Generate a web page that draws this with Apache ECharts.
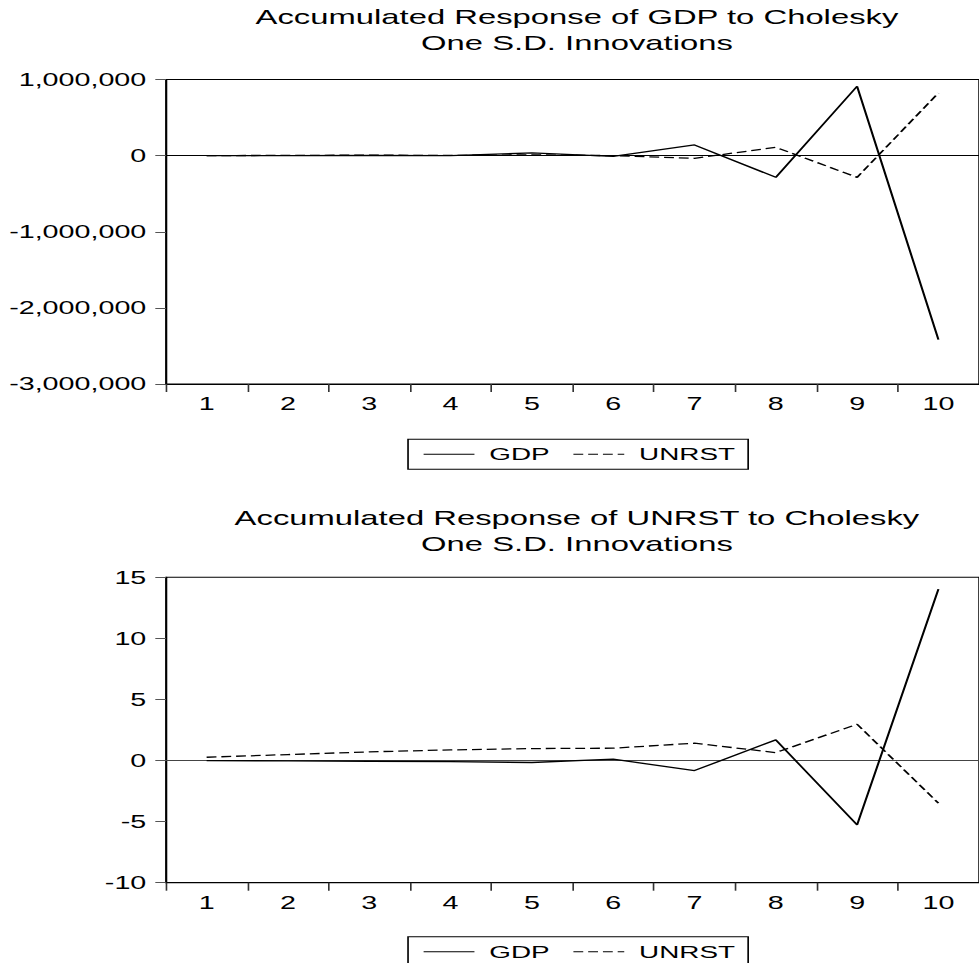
<!DOCTYPE html>
<html><head><meta charset="utf-8">
<script src="https://cdn.jsdelivr.net/npm/echarts@6/dist/echarts.min.js"></script>
<style>
html,body{margin:0;padding:0;background:#fff;overflow:hidden;}
#wrap{width:979px;height:963px;overflow:hidden;position:relative;background:#fff;}
#chart{width:597px;height:963px;transform:scaleX(1.64);transform-origin:0 0;}
</style></head><body>
<div id="wrap"><div id="chart"></div></div>
<script>
// ---- data ----
const periods = ['1','2','3','4','5','6','7','8','9','10'];
// Accumulated Response of GDP
const gdpToGDP   = [0, 1000, 4000, 0, 35000, -10000, 140000, -285000, 911000, -2418000];
const gdpToUNRST = [0, 3000, 6000, 3000, 10000, 0, -35000, 109000, -285000, 823000];
// Accumulated Response of UNRST
const unrstToGDP   = [0, -0.03, -0.06, -0.09, -0.16, 0.11, -0.82, 1.69, -5.27, 14.03];
const unrstToUNRST = [0.27, 0.49, 0.71, 0.87, 0.98, 1.01, 1.42, 0.65, 2.97, -3.49];
// axis ticks
const topYTicks = [-3000000, -2000000, -1000000, 0, 1000000];
const bottomYTicks = [-10, -5, 0, 5, 10, 15];
const seriesNames = ['GDP', 'UNRST'];
const titles = ['Accumulated Response of GDP to Cholesky\nOne S.D. Innovations',
                'Accumulated Response of UNRST to Cholesky\nOne S.D. Innovations'];

const FONT = "'Liberation Sans', Arial, sans-serif";
const gridLeft = 101.2, gridWidth = 501.2;
const grids = [{top: 79.5, height: 304.5}, {top: 577.3, height: 305.4}];

function yAxis(idx, ticks, fmt) {
  return {
    type: 'value', gridIndex: idx,
    min: ticks[0], max: ticks[ticks.length - 1], interval: ticks[1] - ticks[0],
    axisLine: {show: true, lineStyle: {color: '#000', width: 1}},
    axisTick: {show: true, length: 6.5, lineStyle: {color: '#555', width: 1}},
    axisLabel: {margin: 12, color: '#000', fontSize: 17.5, fontFamily: FONT, formatter: fmt},
    splitLine: {show: false}
  };
}
function xAxis(idx) {
  return {
    type: 'category', gridIndex: idx, data: periods, boundaryGap: true,
    axisLine: {show: true, onZero: false, lineStyle: {color: '#000', width: 1}},
    axisTick: {show: true, length: 8, interval: 0, lineStyle: {color: '#333', width: 1}},
    axisLabel: {margin: 11, color: '#000', fontSize: 17.5, fontFamily: FONT, interval: 0},
    splitLine: {show: false}
  };
}
function lineSeries(name, idx, data, dashed, zeroColor) {
  const s = {
    name: name, type: 'line', xAxisIndex: idx, yAxisIndex: idx, data: data,
    symbol: 'none', showSymbol: false, smooth: false, silent: true,
    lineStyle: {color: '#000', width: 1.3, type: dashed ? [6, 3] : 'solid'},
    itemStyle: {color: '#000'},
    z: 3
  };
  if (zeroColor) {
    s.markLine = {
      silent: true, symbol: ['none', 'none'], label: {show: false},
      lineStyle: {color: zeroColor, width: 1, type: 'solid'},
      data: [{yAxis: 0}], z: 2
    };
  }
  return s;
}
function legendAt(top) {
  return {
    left: 248.8, top: top, orient: 'horizontal', selectedMode: false,
    padding: [6, 8, 6, 9], itemGap: 14, itemWidth: 31, itemHeight: 14,
    borderColor: '#000', borderWidth: 1, borderRadius: 0,
    itemStyle: {opacity: 0, borderWidth: 0},
    lineStyle: {width: 1, color: '#000'},
    textStyle: {fontFamily: FONT, fontSize: 17, color: '#000', padding: [0, 0, 0, 4], lineHeight: 18},
    data: seriesNames
  };
}
function titleAt(text, top) {
  return {
    text: text, left: gridLeft + gridWidth / 2, top: top, textAlign: 'center', padding: 0,
    textStyle: {fontFamily: FONT, fontSize: 20, fontWeight: 'normal', color: '#000', lineHeight: 26}
  };
}

const fmtBig = v => Number(v).toLocaleString('en-US');
const fmtSmall = v => String(v);

const chart = echarts.init(document.getElementById('chart'), null, {renderer: 'svg'});
chart.setOption({
  animation: false,
  backgroundColor: '#fff',
  title: [titleAt(titles[0], 4.5), titleAt(titles[1], 505)],
  legend: [legendAt(439.3), legendAt(936.7)],
  grid: grids.map(g => ({left: gridLeft, width: gridWidth, top: g.top, height: g.height,
                         show: true, borderColor: '#000', borderWidth: 1, backgroundColor: 'transparent',
                         containLabel: false})),
  xAxis: [xAxis(0), xAxis(1)],
  yAxis: [yAxis(0, topYTicks, fmtBig), yAxis(1, bottomYTicks, fmtSmall)],
  series: [
    lineSeries(seriesNames[0], 0, gdpToGDP, false, '#000'),
    lineSeries(seriesNames[1], 0, gdpToUNRST, true),
    lineSeries(seriesNames[0], 1, unrstToGDP, false, '#444'),
    lineSeries(seriesNames[1], 1, unrstToUNRST, true)
  ]
});
</script>
</body></html>
